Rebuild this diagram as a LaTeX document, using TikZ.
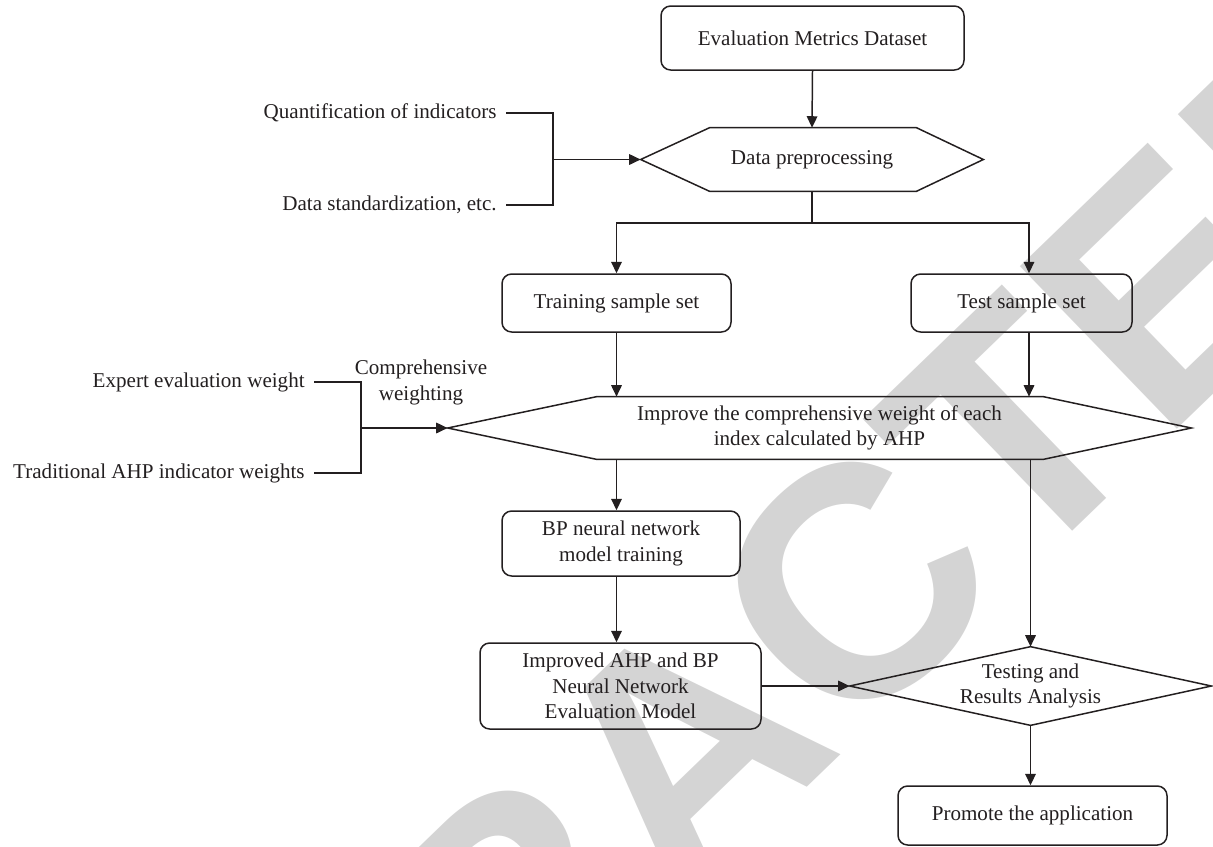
\documentclass[tikz,border=0pt]{standalone}
\usepackage{fontspec}
\setmainfont{Liberation Serif}
\newfontfamily\markfont{Liberation Sans}
\usetikzlibrary{arrows.meta}
\definecolor{inkc}{HTML}{231F20}
\definecolor{markgray}{HTML}{D4D4D4}
\newcommand\pxu{0.02cm}
\begin{document}
\begin{tikzpicture}[x=0.02cm, y=-0.02cm,
  every node/.style={text=inkc, font=\fontsize{12}{14.5}\selectfont, align=center},
  ink/.style={draw=inkc, line width=0.85pt},
  roundbox/.style={ink, rounded corners=5.5pt, inner sep=0pt},
  frame/.style={inner sep=0pt, draw=none},
  link/.style={ink, -{Triangle[length=6.5pt,width=6pt]}},
  wire/.style={ink},
  side/.style={anchor=east, inner xsep=9*\pxu, inner ysep=0pt}
]
\useasboundingbox (0,0) rectangle (1213,846);

% background stamp
\begin{scope}
  \clip (0,0) rectangle (1213,846);
  \node[rotate=44, text=markgray, inner sep=0pt,
        font=\markfont\bfseries\fontsize{187}{187}\selectfont] (stamp) at (683,750) {RETRACTED};
\end{scope}

% main column
\node[roundbox, minimum width=303*\pxu, minimum height=64*\pxu] (data) at (812.5,38) {Evaluation Metrics Dataset};

\node[frame, minimum width=342*\pxu, minimum height=63*\pxu] (pre) at (812,159.5) {Data preprocessing};
\draw[ink] (pre.west) -- ([xshift=69*\pxu]pre.north west) -- ([xshift=-67*\pxu]pre.north east)
  -- (pre.east) -- ([xshift=-67*\pxu]pre.south east) -- ([xshift=69*\pxu]pre.south west) -- cycle;

\node[roundbox, minimum width=229*\pxu, minimum height=58*\pxu] (train) at (616.5,303) {Training sample set};
\node[roundbox, minimum width=221*\pxu, minimum height=58*\pxu] (test) at (1021.5,303) {Test sample set};

\node[frame, minimum width=743*\pxu, minimum height=62*\pxu] (improve) at (819.5,428)
  {Improve the comprehensive weight of each\\index calculated by AHP};
\draw[ink] (improve.west) -- ([xshift=149*\pxu]improve.north west) -- ([xshift=-148*\pxu]improve.north east)
  -- (improve.east) -- ([xshift=-148*\pxu]improve.south east) -- ([xshift=149*\pxu]improve.south west) -- cycle;

\node[roundbox, minimum width=238*\pxu, minimum height=65*\pxu] (bp) at (621,543.5) {BP neural network\\model training};
\node[roundbox, minimum width=281*\pxu, minimum height=86*\pxu] (model) at (620.5,686)
  {Improved AHP and BP\\Neural Network\\Evaluation Model};

\node[frame, minimum width=361*\pxu, minimum height=78*\pxu] (testing) at (1030.5,686) {Testing and\\Results Analysis};
\draw[ink] (testing.west) -- (testing.north) -- (testing.east) -- (testing.south) -- cycle;

\node[roundbox, minimum width=269*\pxu, minimum height=59*\pxu] (promote) at (1032.5,815.5) {Promote the application};

% side inputs
\node[side] (quant) at (506,113) {Quantification of indicators};
\node[side] (stand) at (506,205) {Data standardization, etc.};
\coordinate (jq) at (553,159.5);

\node[side] (expert) at (314,382) {Expert evaluation weight};
\node[side] (trad) at (314,473) {Traditional AHP indicator weights};
\coordinate (jw) at (361,428);
\node (comp) at (421,382.5) {Comprehensive\\weighting};

% connectors
\draw[link] (data.south) -- (pre.north);
\coordinate (split) at (812,223);
\draw[wire] (pre.south) -- (split);
\draw[link] (split) -| (train.north);
\draw[link] (split) -| ([xshift=7.5*\pxu]test.north);

\draw[wire] (quant.east) -| (jq);
\draw[wire] (stand.east) -| (jq);
\draw[link] (jq) -- (pre.west);

\draw[link] (train.south) -- (train.south |- improve.north);
\draw[link] ([xshift=7.5*\pxu]test.south) -- ([xshift=7.5*\pxu]test.south |- improve.north);

\draw[wire] (expert.east) -| (jw);
\draw[wire] (trad.east) -| (jw);
\draw[link] (jw) -- (improve.west);

\draw[link] (improve.south -| train.south) -- (bp.north -| train.south);
\draw[link] (improve.south -| testing.north) -- (testing.north);
\draw[link] (bp.south -| train.south) -- (model.north -| train.south);
\draw[link] (model.east) -- (testing.west);
\draw[link] (testing.south) -- (promote.north -| testing.south);
\end{tikzpicture}
\end{document}
